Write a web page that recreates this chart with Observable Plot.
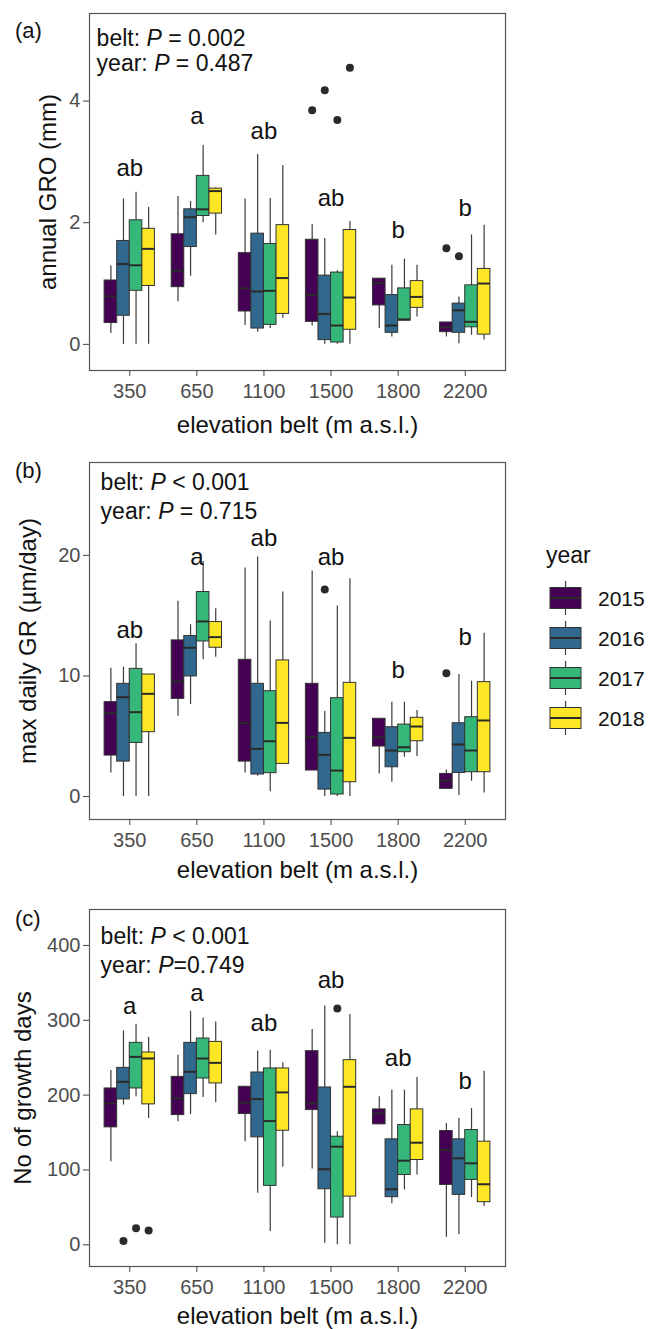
<!DOCTYPE html>
<html><head><meta charset="utf-8">
<script src="https://cdn.jsdelivr.net/npm/d3@7"></script>
<script src="https://cdn.jsdelivr.net/npm/@observablehq/plot@0.6"></script>
<style>
html,body{margin:0;padding:0;background:#fff;}
#root{position:relative;width:648px;height:1329px;overflow:hidden;font-family:"Liberation Sans",Arial,sans-serif;}
.panel{position:absolute;left:0;}
.plab{position:absolute;font-size:22px;line-height:22px;color:#111;}
svg [aria-label="y-axis tick label"], svg [aria-label="fx-axis tick label"]{fill:#4d4d4d;}
svg [aria-label="y-axis label"], svg [aria-label="fx-axis label"]{font-size:24px;fill:#111;}
</style></head><body><div id="root"></div><script>
const belts = ["350", "650", "1100", "1500", "1800", "2200"];
const years = ["2015", "2016", "2017", "2018"];
const yearColors = ["#440154", "#31688E", "#35B779", "#FDE725"];

// (a) annual GRO (mm): per belt, four years
const groLo  = [0.18,0,0,0,  0.70,1.12,2.00,1.80,  0.31,0.20,0.26,0.43,  0.30,0,0,0,  0.26,0.12,0.39,0.45,  0.12,0.01,0.15,0.07];
const groQ1  = [0.35,0.47,0.88,0.96,  0.94,1.60,2.11,2.15,  0.54,0.26,0.32,0.50,  0.37,0.07,0.03,0.24,  0.64,0.19,0.39,0.60,  0.20,0.19,0.28,0.16];
const groMed = [0.79,1.32,1.30,1.57,  1.21,2.09,2.22,2.52,  0.92,0.87,0.88,1.09,  0.81,0.50,0.31,0.77,  1.01,0.31,0.41,0.78,  0.28,0.56,0.37,1.00];
const groQ3  = [1.05,1.70,2.04,1.90,  1.81,2.22,2.77,2.56,  1.50,1.82,1.65,1.96,  1.72,1.13,1.18,1.88,  1.08,0.81,0.92,1.04,  0.36,0.67,0.97,1.24];
const groHi  = [1.29,2.39,2.50,2.25,  2.43,2.35,3.27,2.57,  2.39,3.12,2.40,2.94,  1.97,1.74,1.21,2.02,  1.08,1.30,1.40,1.30,  0.36,0.78,1.80,1.96];
const groOutBelt = ["1500","1500","1500","1500","2200","2200"];
const groOutYear = ["2015","2016","2017","2018","2015","2016"];
const groOutVal  = [3.85, 4.18, 3.69, 4.55, 1.58, 1.45];
const groLetters = ["ab","a","ab","ab","b","b"];
const groLetterY = [2.9, 3.75, 3.5, 2.4, 1.87, 2.23];

// (b) max daily GR (µm/day)
const grLo  = [1.96,0,0,0,  6.67,7.63,11.34,11.56,  1.96,1.69,0.41,2.71,  2.16,0,0,0,  1.88,1.19,3.26,3.32,  0.64,0.08,1.27,0.3];
const grQ1  = [3.40,2.90,4.45,5.34,  8.10,9.96,12.86,12.34,  2.90,1.83,1.94,2.71,  2.16,0.58,0.17,1.19,  4.15,2.43,3.68,4.59,  0.64,1.96,2.02,2.02];
const grMed = [6.92,8.24,7.00,8.52,  9.54,12.34,14.52,13.22,  6.11,3.96,4.59,6.11,  4.92,3.46,2.16,4.87,  4.92,3.82,4.09,5.81,  1.33,4.32,3.82,6.31];
const grQ3  = [7.83,9.35,10.59,10.12,  12.95,13.31,16.96,14.47,  11.34,9.35,8.74,11.29,  9.35,5.28,8.16,9.43,  6.45,5.75,5.97,6.53,  1.88,6.08,6.58,9.49];
const grHi  = [10.65,10.73,12.67,10.12,  16.2,14.25,19.5,15.57,  18.95,19.86,14.55,16.96,  18.7,7.05,15.8,18.06,  6.45,7.83,7.83,7.14,  2.2,10.12,9.57,13.55];
const grOutBelt = ["1500","2200"];
const grOutYear = ["2016","2015"];
const grOutVal  = [17.18, 10.23];
const grLetters = ["ab","a","ab","ab","b","b"];
const grLetterY = [13.8, 19.8, 21.4, 19.8, 10.5, 13.2];

// (c) No of growth days
const gdLo  = [111,186.7,197.8,168.9,  164.4,174.2,196.9,189.8,  137.8,68.9,17.8,103.6,  101.3,2,0,0,  160.9,54.7,73.3,93.3,  10.2,13.3,63.1,51.1];
const gdQ1  = [156.9,194.2,208.9,187.6,  173.3,201.3,222.2,215.6,  174.7,143.6,78.7,152.4,  180,74.2,36.4,64.4,  160.9,63.6,93.3,113.3,  80,66.7,86.7,56.9];
const gdMed = [188.9,217.8,251.1,248.9,  195.6,231.1,248.9,243.1,  189.8,194.7,165.3,203.6,  188.9,100.9,131.1,211.1,  175.6,74.2,112.4,136.4,  126.7,115.6,108.9,80.9];
const gdQ3  = [208.9,236.4,269.8,256.9,  224.4,269.8,275.6,271.1,  211.1,230.2,235.6,235.6,  258.7,210.2,144.4,246.7,  180.9,140.9,160,180.9,  152,140.9,153.3,137.8];
const gdHi  = [233,285.8,294.7,276.9,  253.3,312,303.1,297.8,  212,259.1,260,243.1,  287.6,319,151,307.6,  197.8,206.7,206.7,223.6,  162.2,169,182.2,232];
const gdOutBelt = ["350","350","350","1500"];
const gdOutYear = ["2016","2017","2018","2017"];
const gdOutVal  = [5, 22, 19, 315.6];
const gdLetters = ["a","a","ab","ab","ab","b"];
const gdLetterY = [318.7, 335.6, 295.6, 354, 248.9, 217.8];

const root = document.getElementById("root");

function makePanel(cfg) {
  const rows = [];
  belts.forEach((b, i) => years.forEach((yr, j) => {
    const k = i * 4 + j;
    rows.push({belt: b, year: yr, lo: cfg.lo[k], q1: cfg.q1[k], med: cfg.med[k], q3: cfg.q3[k], hi: cfg.hi[k]});
  }));
  const outs = cfg.outBelt.map((b, i) => ({belt: b, year: cfg.outYear[i], v: cfg.outVal[i]}));
  const letters = belts.map((b, i) => ({belt: b, t: cfg.letters[i], y: cfg.letterY[i]}));
  const svg = Plot.plot({
    width: 510, height: 432,
    marginLeft: 89, marginRight: 5, marginTop: 13, marginBottom: 62,
    style: {fontFamily: "'Liberation Sans', Arial, sans-serif", fontSize: "20px", background: "transparent", overflow: "visible"},
    fx: {domain: belts, paddingInner: 0.25, paddingOuter: 0.225, round: false},
    x: {domain: years, padding: 0, round: false, axis: null},
    y: {domain: cfg.domain},
    color: {domain: years, range: yearColors},
    marks: [
      Plot.frame({facet: "super", stroke: "#555", strokeWidth: 1.2, insetLeft: -15.1, insetRight: -15.1}),
      Plot.axisY({ticks: cfg.ticks, tickFormat: d => String(d), tickSize: 6, tickPadding: 3, stroke: "#444", dx: -15.1,
        label: cfg.ylabel, labelAnchor: "center", labelArrow: "none", labelOffset: cfg.yLabelOffset}),
      Plot.axisFx({anchor: "bottom", tickSize: 6, tickPadding: 7, stroke: "#444", label: "elevation belt (m a.s.l.)",
        labelAnchor: "center", labelArrow: "none", labelOffset: cfg.xLabelOffset}),
      Plot.ruleX(rows, {fx: "belt", x: "year", y1: "lo", y2: "hi", stroke: "#3c3c3c", strokeWidth: 1.2}),
      Plot.barY(rows, {fx: "belt", x: "year", y1: "q1", y2: "q3", fill: "year", stroke: "#333", strokeWidth: 1}),
      Plot.tickY(rows, {fx: "belt", x: "year", y: "med", stroke: "#2a2a2a", strokeWidth: 2}),
      Plot.dot(outs, {fx: "belt", x: "year", y: "v", r: 4, fill: "#2b2b2b", stroke: "none"}),
      Plot.text(letters, {fx: "belt", y: "y", text: "t", fontSize: 24, fill: "#111"}),
      Plot.text([cfg.ann1], {facet: "super", frameAnchor: "top-left", textAnchor: "start", lineAnchor: "top", dx: cfg.annDx, dy: cfg.annDy1, text: d => d, fontSize: 23, fill: "#111"}),
      Plot.text([cfg.ann2], {facet: "super", frameAnchor: "top-left", textAnchor: "start", lineAnchor: "top", dx: cfg.annDx, dy: cfg.annDy2, text: d => d, fontSize: 23, fill: "#111"})
    ]
  });
  // italic P in the statistics annotation
  d3.select(svg).selectAll("text").each(function() {
    const t = this.textContent;
    const m = /^((?:belt|year): )P(.*)$/.exec(t);
    if (m && this.children.length === 0) {
      const el = d3.select(this);
      el.text(null);
      el.append("tspan").text(m[1]);
      el.append("tspan").attr("font-style", "italic").text("P");
      el.append("tspan").text(m[2]);
    }
  });
  svg.classList.add("panel");
  svg.style.position = "absolute";
  svg.style.top = cfg.top + "px";
  root.appendChild(svg);
  const lab = document.createElement("div");
  lab.className = "plab";
  lab.textContent = cfg.tag;
  lab.style.left = "15px";
  lab.style.top = cfg.tagTop + "px";
  root.appendChild(lab);
}

makePanel({top: 0, tag: "(a)", tagTop: 20, lo: groLo, q1: groQ1, med: groMed, q3: groQ3, hi: groHi,
  outBelt: groOutBelt, outYear: groOutYear, outVal: groOutVal, letters: groLetters, letterY: groLetterY,
  domain: [-0.43, 5.44], ticks: [0, 2, 4], ylabel: "annual GRO (mm)", yLabelOffset: 66, xLabelOffset: 62,
  ann1: "belt: P = 0.002", ann2: "year: P = 0.487", annDx: -8, annDy1: 16, annDy2: 41});
makePanel({top: 449, tag: "(b)", tagTop: 460, lo: grLo, q1: grQ1, med: grMed, q3: grQ3, hi: grHi,
  outBelt: grOutBelt, outYear: grOutYear, outVal: grOutVal, letters: grLetters, letterY: grLetterY,
  domain: [-1.9, 27.7], ticks: [0, 10, 20], ylabel: "max daily GR (µm/day)", yLabelOffset: 86, xLabelOffset: 58,
  ann1: "belt: P < 0.001", ann2: "year: P = 0.715", annDx: -4, annDy1: 11, annDy2: 40});
makePanel({top: 896, tag: "(c)", tagTop: 908, lo: gdLo, q1: gdQ1, med: gdMed, q3: gdQ3, hi: gdHi,
  outBelt: gdOutBelt, outYear: gdOutYear, outVal: gdOutVal, letters: gdLetters, letterY: gdLetterY,
  domain: [-29, 448], ticks: [0, 100, 200, 300, 400], ylabel: "No of growth days", yLabelOffset: 91, xLabelOffset: 57,
  ann1: "belt: P < 0.001", ann2: "year: P=0.749", annDx: -4, annDy1: 18, annDy2: 47});

// legend
const lg = d3.create("svg").attr("width", 108).attr("height", 200)
  .style("position", "absolute").style("left", "540px").style("top", "540px")
  .style("font-family", "'Liberation Sans', Arial, sans-serif");
lg.append("text").attr("x", 6).attr("y", 23).attr("font-size", 23).attr("fill", "#111").text("year");
years.forEach((yr, i) => {
  const cy = 58 + i * 40;
  const g = lg.append("g");
  g.append("line").attr("x1", 25.5).attr("x2", 25.5).attr("y1", cy - 17).attr("y2", cy + 17).attr("stroke", "#3c3c3c").attr("stroke-width", 1.2);
  g.append("rect").attr("x", 10).attr("y", cy - 10.5).attr("width", 31).attr("height", 21).attr("fill", yearColors[i]).attr("stroke", "#333");
  g.append("line").attr("x1", 10).attr("x2", 41).attr("y1", cy).attr("y2", cy).attr("stroke", "#2a2a2a").attr("stroke-width", 2);
  g.append("text").attr("x", 58).attr("y", cy + 7.5).attr("font-size", 21).attr("fill", "#111").text(yr);
});
root.appendChild(lg.node());
</script></body></html>
